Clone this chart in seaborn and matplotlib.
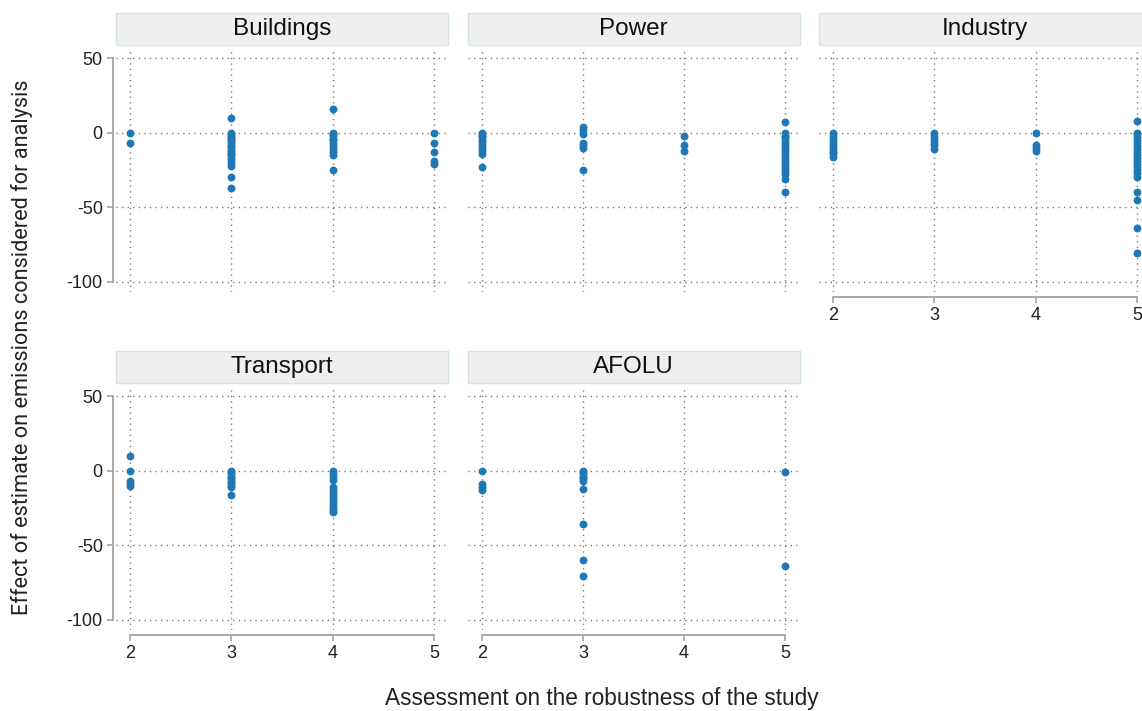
import numpy as np
import pandas as pd
import seaborn as sns
import matplotlib
matplotlib.use("Agg")
import matplotlib.pyplot as plt
from matplotlib.patches import Rectangle

# Effect estimates (% change in emissions) grouped by robustness score, per sector
buildings = {
    2: [0, -7],
    3: [10, 0, -1, -2, -3, -4, -5, -6, -8, -9, -10, -12, -13, -14, -15, -17, -18, -20, -22, -30, -37],
    4: [16, 0, -1, -2, -4, -5, -7, -9, -11, -13, -15, -25],
    5: [0, -7, -13, -19, -21],
}
power = {
    2: [0, -1, -2, -3, -5, -6, -8, -10, -12, -14, -23],
    3: [4, 2, -1, -7, -8, -10, -25],
    4: [-2, -8, -12],
    5: [7, 0, -2, -3, -5, -7, -9, -10, -12, -14, -16, -18, -20, -22, -24, -26, -28, -31, -40],
}
industry = {
    2: [0, -2, -4, -6, -8, -10, -12, -13, -14, -16],
    3: [0, -2, -4, -6, -8, -11],
    4: [0, -8, -10, -12],
    5: [8, 0, -1, -3, -5, -7, -9, -11, -13, -15, -17, -19, -21, -23, -25, -27, -30, -40, -45, -64, -81],
}
transport = {
    2: [10, 0, -7, -8, -10],
    3: [0, -1, -2, -4, -5, -7, -8, -10, -11, -16],
    4: [0, -2, -4, -6, -11, -13, -15, -17, -19, -21, -23, -25, -27, -28],
}
afolu = {
    2: [0, -9, -11, -13],
    3: [0, -1, -2, -4, -5, -7, -12, -36, -60, -71],
    5: [-1, -64],
}

sectors = ["Buildings", "Power", "Industry", "Transport", "AFOLU"]
sector_data = [buildings, power, industry, transport, afolu]
score_ticks = [2, 3, 4, 5]
effect_ticks = [-100, -50, 0, 50]

rows = []
for name, groups in zip(sectors, sector_data):
    for score, values in groups.items():
        for v in values:
            rows.append({"sector": name, "score": score, "effect": v})
df = pd.DataFrame(rows)

sns.set_theme(style="white")
plt.rcParams["font.family"] = ["Liberation Sans", "DejaVu Sans"]
plt.rcParams["axes.unicode_minus"] = False

g = sns.relplot(
    data=df, x="score", y="effect", col="sector", col_order=sectors,
    col_wrap=3, kind="scatter", color="#1f77b4", s=32, linewidth=0,
    height=3, aspect=1.2, facet_kws=dict(sharex=True, sharey=True),
)
fig = g.figure
fig.set_size_inches(11.42, 7.11)
fig.set_dpi(100)

W, H = 1142.0, 711.0
col_left = [116, 467.5, 819]
row_top = [48, 386]
ax_w, ax_h = 332, 244

spine_col = "#a3a3a3"
for i, ax in enumerate(g.axes.flat):
    r, c = divmod(i, 3)
    ax.set_position([col_left[c] / W, 1 - (row_top[r] + ax_h) / H, ax_w / W, ax_h / H])
    ax.set_xlim(1.86, 5.14)
    ax.set_ylim(-107, 57)
    ax.set_xticks(score_ticks)
    ax.set_yticks(effect_ticks)
    ax.set_xlabel("")
    ax.set_ylabel("")
    ax.set_title("")
    ax.grid(True, linestyle=(0, (1, 3)), color="#7a7a7a", linewidth=1.0)
    ax.set_axisbelow(True)
    ax.tick_params(axis="both", direction="out", length=4, width=1.2,
                   color=spine_col, labelsize=13, labelcolor="#222222", pad=3)

    show_left = c == 0
    show_bottom = not (r == 0 and c < 2)
    sns.despine(ax=ax, offset={"left": 2.5, "bottom": 3.5}, trim=True,
                left=not show_left, bottom=not show_bottom)
    for s in ("left", "bottom"):
        ax.spines[s].set_color(spine_col)
        ax.spines[s].set_linewidth(1.3)
    ax.tick_params(axis="y", left=show_left, labelleft=show_left)
    ax.tick_params(axis="x", bottom=show_bottom, labelbottom=show_bottom)

    # facet strip
    ax.add_patch(Rectangle((0, 1 + 3 / ax_h), 1, 32 / ax_h, transform=ax.transAxes,
                           facecolor="#efefef", edgecolor="#d5e3ea", linewidth=1.0,
                           clip_on=False))
    ax.text(0.5, 1 + 19 / ax_h, sectors[i], transform=ax.transAxes, ha="center",
            va="center", fontsize=17.5, color="#111111")

fig.text(602 / W, 1 - 698 / H, "Assessment on the robustness of the study",
         ha="center", va="center", fontsize=16.3, color="#222222")
fig.text(22 / W, 1 - 347 / H, "Effect of estimate on emissions considered for analysis",
         ha="center", va="center", rotation=90, fontsize=15.6,
         family=["Roboto", "DejaVu Sans"], color="#222222")

fig.savefig("out.png", dpi=100)
